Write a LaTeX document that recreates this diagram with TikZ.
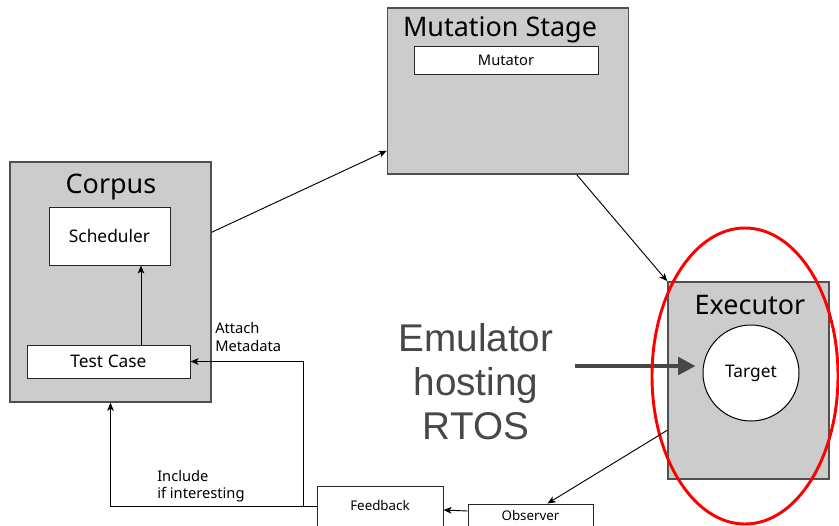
\documentclass[tikz,border=0pt]{standalone}
\usepackage{fontspec}
\setmainfont{Noto Sans}
\newfontfamily\bigsans{Liberation Sans}
\usetikzlibrary{arrows.meta,calc}
\definecolor{stagegray}{HTML}{CCCCCC}
\definecolor{edgegray}{HTML}{505050}
\definecolor{textgray}{HTML}{474747}
\tikzset{
  stage/.style={draw=edgegray, line width=1.1pt, fill=stagegray, inner sep=0pt},
  inbox/.style={draw=black!85, line width=0.75pt, fill=white, inner sep=0pt},
  flow/.style={draw=black, line width=0.7pt, -{Stealth[length=6pt,width=5pt,inset=1.5pt]}},
  title/.style={font=\fontsize{20.2}{24}\selectfont},
}
\begin{document}
\begin{tikzpicture}[x=0.75pt,y=-0.75pt]
\useasboundingbox (0,0) rectangle (839,525);

% Corpus and its components
\node[stage, minimum width=201*0.75pt, minimum height=240*0.75pt] (corpus) at (110.5,282) {};
\node[title] at (111,187) {Corpus};
\node[inbox, minimum width=121*0.75pt, minimum height=58*0.75pt, font=\fontsize{13}{15}\selectfont] (sched) at (109.5,236) {Scheduler};
\node[inbox, minimum width=163*0.75pt, minimum height=33*0.75pt, font=\fontsize{13}{15}\selectfont] (tc) at (108.5,361.5) {Test Case};

% Mutation stage
\node[stage, minimum width=241*0.75pt, minimum height=166*0.75pt] (mut) at (508,91) {};
\node[title] at (500,30) {Mutation Stage};
\node[inbox, minimum width=184*0.75pt, minimum height=28*0.75pt, font=\fontsize{11}{13}\selectfont] (mutator) at (506,60) {Mutator};

% Executor with the target
\node[stage, minimum width=161*0.75pt, minimum height=197*0.75pt] (exec) at (748.5,380.5) {};
\node[title] at (750,305) {Executor};
\node[circle, draw=black, line width=0.75pt, fill=white, minimum size=96*0.75pt, inner sep=0pt, font=\fontsize{13}{15}\selectfont] (target) at (751,373) {Target};

% Feedback path
\node[inbox, minimum width=126*0.75pt, minimum height=40*0.75pt, font=\fontsize{10}{12}\selectfont, text depth=0pt] (fb) at (380,506) {\raisebox{1.5pt}{Feedback}};
\node[inbox, minimum width=125*0.75pt, minimum height=22*0.75pt, font=\fontsize{10}{12}\selectfont] (obs) at (530.5,515) {Observer};

% Emulator annotation
\node[align=center, text=textgray, font=\bigsans\fontsize{29}{33}\selectfont] (emu) at (476,382) {Emulator\\hosting\\RTOS};
\coordinate (emustart) at (575,366);
\draw[draw=textgray, line width=3pt, -{Triangle[length=13pt,width=13pt]}] (emustart) -- ($(target.west)+(-7,-7)$);

% Highlight around the executor
\draw[red, line width=2.2pt] (745,376) ellipse [x radius=93, y radius=148];

% Connectors
\draw[flow] ($(corpus.north east)+(0,71)$) -- ($(mut.south west)+(0,-24)$);
\draw[flow] ($(mut.south west)+(190,0)$) -- (exec.north west);
\draw[flow] ($(exec.north west)+(0,149)$) -- ($(obs.north west)+(80,0)$);
\draw[flow] ($(obs.west)+(0,-4)$) -- ($(fb.east)+(0,4)$);
\draw[flow] (fb.west) -| (corpus.south);
\coordinate (split) at (303,506);
\draw[flow] (split) |- (tc.east);
\draw[flow] ($(tc.north)+(32.5,0)$) -- ($(sched.south)+(31.5,0)$);

% Connector labels
\node[anchor=north west, align=left, inner sep=0pt, font=\fontsize{11}{13.5}\selectfont] (attach) at (215,322) {Attach\\Metadata};
\node[anchor=north west, align=left, inner sep=0pt, font=\fontsize{11}{13}\selectfont] (incl) at (157,470) {Include\\if interesting};
\end{tikzpicture}
\end{document}
